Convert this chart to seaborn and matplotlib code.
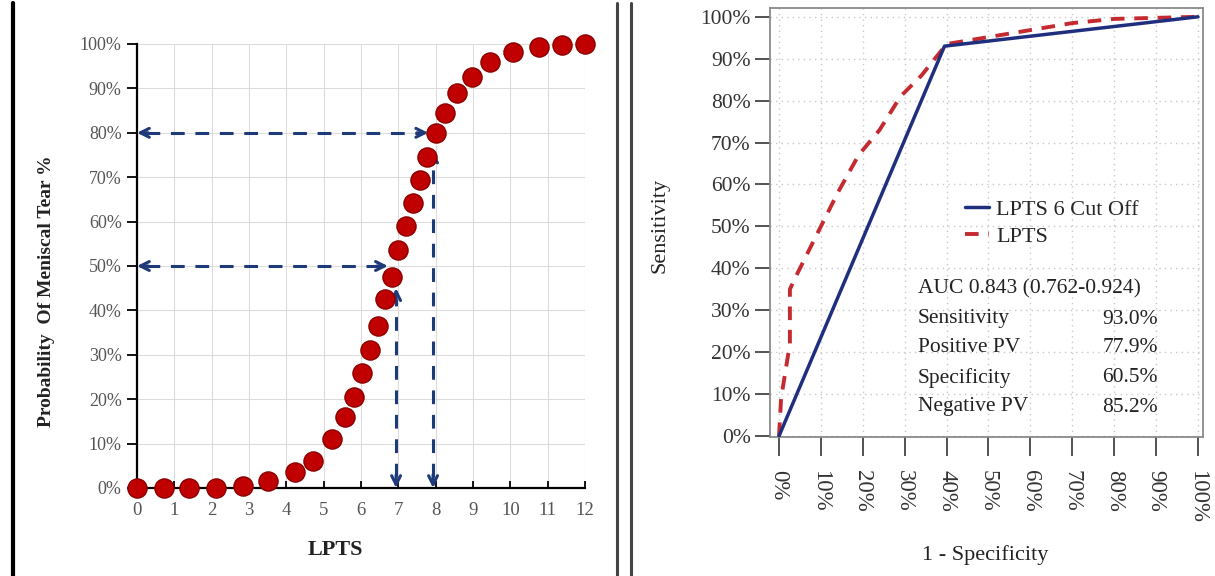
import matplotlib
matplotlib.use("Agg")
import numpy as np
import pandas as pd
import matplotlib.pyplot as plt
from matplotlib.lines import Line2D
from matplotlib.ticker import PercentFormatter, MultipleLocator
import seaborn as sns

# ---------------- Left panel data (logistic curve) ----------------
lpts_score = [0, 0.72, 1.39, 2.12, 2.84, 3.51, 4.23, 4.71, 5.22, 5.57, 5.81, 6.03,
              6.24, 6.46, 6.64, 6.83, 6.99, 7.21, 7.39, 7.58, 7.77, 8.01, 8.25,
              8.57, 8.97, 9.46, 10.07, 10.77, 11.38, 12.0]
tear_prob = [0, 0, 0, 0, 0.5, 1.5, 3.5, 6, 11, 16, 20.5, 26, 31, 36.5, 42.5,
             47.5, 53.5, 59, 64.2, 69.4, 74.5, 80.0, 84.5, 89, 92.6, 96, 98.2,
             99.3, 99.8, 100]
left_xticks = list(range(0, 13))
left_yticks = list(range(0, 101, 10))
# reference arrows: probability levels, their LPTS read-off points
arrow_prob_levels = [50, 80]
arrow_h_ends = [6.72, 7.80]
arrow_lpts_values = [6.94, 7.93]
arrow_v_tops = [45, 76]

# ---------------- Right panel data (ROC) ----------------
fpr_cutoff = [0, 39.5, 100]
tpr_cutoff = [0, 93.0, 100]
fpr_lpts = [0, 0.5, 2.6, 2.6, 4.5, 9, 14, 19, 24, 29, 34, 38, 40, 55, 70, 80, 100]
tpr_lpts = [0, 9, 22, 35, 39, 48, 58, 67, 73, 81, 86, 91, 93.5, 96, 98.5, 99.5, 100]
right_ticks = list(range(0, 101, 10))
auc_text = "AUC 0.843 (0.762-0.924)"
stat_labels = ["Sensitivity", "Positive PV", "Specificity", "Negative PV"]
stat_values = ["93.0%", "77.9%", "60.5%", "85.2%"]

# ---------------- Style ----------------
sns.set_style("white")
plt.rcParams['font.family'] = ['Liberation Serif', 'DejaVu Serif']

navy = '#1F3A78'
dot_red = '#C00000'
roc_blue = '#1F2F7E'
roc_red = '#C42A30'

W, H = 1215, 576
fig = plt.figure(figsize=(W / 100, H / 100), dpi=100)
fig.patch.set_facecolor('white')

# ---------------- Left panel ----------------
ax1 = fig.add_axes([137 / W, 1 - 488 / H, (585 - 137) / W, (488 - 44) / H])
ax1.set_xlim(0, 12)
ax1.set_ylim(0, 100)
ax1.set_axisbelow(True)
ax1.grid(True, color='#DCDCDC', lw=0.8)
for s in ['top', 'right']:
    ax1.spines[s].set_visible(False)
for s in ['left', 'bottom']:
    ax1.spines[s].set_color('black')
    ax1.spines[s].set_linewidth(1.6)
ax1.set_xticks(left_xticks)
ax1.set_yticks(left_yticks)
ax1.yaxis.set_major_formatter(PercentFormatter(100, decimals=0))
ax1.tick_params(axis='y', direction='out', length=7, width=1.3, color='black',
                labelcolor='#555555', labelsize=13, pad=4, left=True)
ax1.tick_params(axis='x', direction='in', length=5, width=1.3, color='black',
                labelcolor='#555555', labelsize=13.5, pad=10, bottom=True)

# arrows
for lvl, xe in zip(arrow_prob_levels, arrow_h_ends):
    ax1.plot([0.25, xe - 0.25], [lvl, lvl], color=navy, lw=2.2,
             linestyle=(0, (4.5, 3.5)), zorder=3)
    ax1.annotate('', xy=(0, lvl), xytext=(0.3, lvl),
                 arrowprops=dict(arrowstyle='->', color=navy, lw=2.2,
                                 shrinkA=0, shrinkB=0, mutation_scale=16),
                 annotation_clip=False, zorder=3)
    ax1.annotate('', xy=(xe, lvl), xytext=(xe - 0.3, lvl),
                 arrowprops=dict(arrowstyle='->', color=navy, lw=2.2,
                                 shrinkA=0, shrinkB=0, mutation_scale=16),
                 zorder=3)
for xv, top in zip(arrow_lpts_values, arrow_v_tops):
    ax1.plot([xv, xv], [2.5, top - 2.5], color=navy, lw=2.2,
             linestyle=(0, (4.5, 3.5)), zorder=3)
    ax1.annotate('', xy=(xv, 0), xytext=(xv, 3),
                 arrowprops=dict(arrowstyle='->', color=navy, lw=2.2,
                                 shrinkA=0, shrinkB=0, mutation_scale=16),
                 zorder=3)
    ax1.annotate('', xy=(xv, top), xytext=(xv, top - 3),
                 arrowprops=dict(arrowstyle='->', color=navy, lw=2.2,
                                 shrinkA=0, shrinkB=0, mutation_scale=16),
                 zorder=3)

df_left = pd.DataFrame({'LPTS': lpts_score, 'Prob': tear_prob})
sns.scatterplot(data=df_left, x='LPTS', y='Prob', ax=ax1, s=190, color=dot_red,
                edgecolor='#8A0000', linewidth=1.0, zorder=5, clip_on=False,
                legend=False)
ax1.set_xlabel('')
ax1.set_ylabel('')

fig.text(47 / W, 1 - 291 / H, 'Probability  Of Meniscal Tear %', rotation=90,
         ha='center', va='center', fontsize=14, fontweight='bold', color='#222222')
fig.text(335 / W, 1 - 550 / H, 'LPTS', ha='center', va='center',
         fontsize=16, fontweight='bold', color='#222222')

# ---------------- Right panel ----------------
x0, x1 = 770, 1203
y0, y1 = 437, 8
ax2 = fig.add_axes([x0 / W, 1 - y0 / H, (x1 - x0) / W, (y0 - y1) / H])
ax2.set_xlim(-2.15, 101.2)
ax2.set_ylim(-0.24, 102.1)
ax2.set_axisbelow(True)
ax2.grid(True, color='#C8C8C8', lw=1.0, linestyle=(0, (1, 3)))
for s in ax2.spines.values():
    s.set_color('#8A8A8A')
    s.set_linewidth(1.3)
ax2.set_xticks(right_ticks)
ax2.set_yticks(right_ticks)
ax2.xaxis.set_major_formatter(PercentFormatter(100, decimals=0))
ax2.yaxis.set_major_formatter(PercentFormatter(100, decimals=0))
ax2.tick_params(axis='both', direction='out', length=11, width=1.3,
                color='#444444', labelcolor='#333333', labelsize=15.5,
                left=True, bottom=True)
ax2.tick_params(axis='x', labelrotation=-90, pad=10, length=14, labelsize=16.5)
ax2.tick_params(axis='y', pad=3)

df_cut = pd.DataFrame({'fpr': fpr_cutoff, 'tpr': tpr_cutoff})
df_lpts = pd.DataFrame({'fpr': fpr_lpts, 'tpr': tpr_lpts})
sns.lineplot(data=df_cut, x='fpr', y='tpr', sort=False, estimator=None,
             color=roc_blue, lw=2.5, label='LPTS 6 Cut Off', ax=ax2, zorder=4)
sns.lineplot(data=df_lpts, x='fpr', y='tpr', sort=False, estimator=None,
             color=roc_red, lw=2.8, linestyle=(0, (3.5, 2.5)), label='LPTS',
             ax=ax2, zorder=3)
ax2.set_xlabel('')
ax2.set_ylabel('')

ax2.legend(loc='upper left', bbox_to_anchor=((965 - x0) / (x1 - x0), (y0 - 199) / (y0 - y1)),
           frameon=False, fontsize=16, handlelength=1.1, handletextpad=0.3,
           labelspacing=0.3, borderpad=0, borderaxespad=0)

def ay(ypix):
    return (y0 - ypix) / (y0 - y1)

def ax_(xpix):
    return (xpix - x0) / (x1 - x0)

ax2.text(ax_(918), ay(289), auc_text, transform=ax2.transAxes, ha='left',
         va='center', fontsize=15.5, color='#222222')
rows_y = [319, 348, 378, 407]
for lab, val, yy in zip(stat_labels, stat_values, rows_y):
    ax2.text(ax_(918), ay(yy), lab, transform=ax2.transAxes, ha='left',
             va='center', fontsize=15.5, color='#222222')
    ax2.text(ax_(1158), ay(yy), val, transform=ax2.transAxes, ha='right',
             va='center', fontsize=15.5, color='#222222')

fig.text(660 / W, 1 - 225 / H, 'Sensitivity', rotation=90, ha='center',
         va='center', fontsize=16, color='#222222')
fig.text(985 / W, 1 - 555 / H, '1 - Specificity', ha='center', va='center',
         fontsize=16, color='#222222')

# ---------------- Frame lines ----------------
fig.add_artist(Line2D([13 / W, 13 / W], [0, 1 - 3 / H], transform=fig.transFigure,
                      color='black', lw=3))
for xp in [617, 631]:
    fig.add_artist(Line2D([xp / W, xp / W], [0, 1 - 3 / H], transform=fig.transFigure,
                          color='#444444', lw=2.2))

fig.savefig('out.png', dpi=100, facecolor='white')
